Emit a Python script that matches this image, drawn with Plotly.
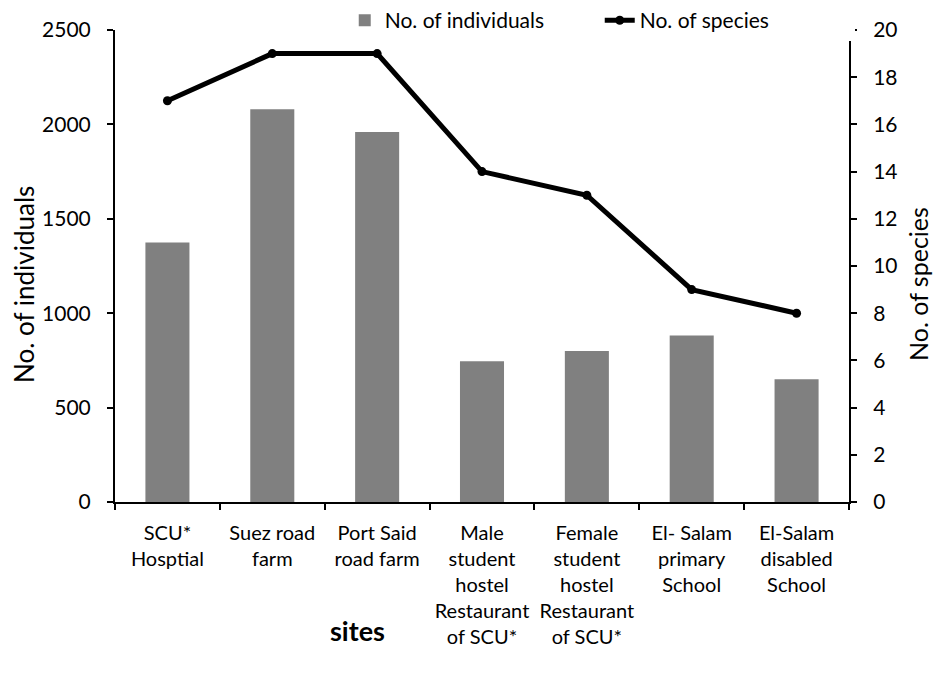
"""Number of individuals and species per site (bar + line, dual axis)."""

import plotly.graph_objects as go

# Data
sites = [
    "SCU*<br>Hosptial",
    "Suez road<br>farm",
    "Port Said<br>road farm",
    "Male<br>student<br>hostel<br>Restaurant<br>of SCU*",
    "Female<br>student<br>hostel<br>Restaurant<br>of SCU*",
    "El- Salam<br>primary<br>School",
    "El-Salam<br>disabled<br>School",
]
individuals = [1375, 2080, 1960, 745, 800, 882, 650]
species = [17, 19, 19, 14, 13, 9, 8]

left_ticks = [0, 500, 1000, 1500, 2000, 2500]
right_ticks = [0, 2, 4, 6, 8, 10, 12, 14, 16, 18, 20]

FONT = "Lato, 'Open Sans', sans-serif"

fig = go.Figure()

fig.add_trace(go.Bar(
    x=sites,
    y=individuals,
    name="No. of individuals",
    marker=dict(color="#808080", line=dict(width=0)),
    yaxis="y",
))

fig.add_trace(go.Scatter(
    x=sites,
    y=species,
    name="No. of species",
    mode="lines+markers",
    line=dict(color="black", width=5),
    marker=dict(color="black", size=9),
    yaxis="y2",
))

axis_common = dict(
    showgrid=False,
    zeroline=False,
    showline=True,
    linecolor="black",
    linewidth=2,
    ticks="outside",
    ticklen=6,
    tickwidth=2,
    tickcolor="black",
    tickfont=dict(family=FONT, size=21, color="black"),
)

# page has an 8px body margin, so the margins below are shifted by 8px
fig.update_layout(
    width=941,
    height=675,
    plot_bgcolor="white",
    paper_bgcolor="white",
    margin=dict(l=107, r=100, t=22, b=181, autoexpand=False),
    bargap=0.58,
    font=dict(family=FONT, size=20, color="black"),
    xaxis=dict(
        **axis_common,
        type="category",
        tickson="boundaries",
        tickangle=0,
        ticklabelstandoff=12,
    ),
    yaxis=dict(
        **axis_common,
        range=[0, 2500],
        tickvals=left_ticks,
        ticklabelstandoff=12,
    ),
    yaxis2=dict(
        **axis_common,
        overlaying="y",
        side="right",
        range=[0, 20],
        tickvals=right_ticks,
        ticklabelstandoff=12,
    ),
    legend=dict(
        orientation="h",
        x=0.313,
        xanchor="left",
        y=1.02,
        yanchor="middle",
        font=dict(family=FONT, size=21),
        entrywidth=210,
        traceorder="normal",
    ),
)
fig.update_xaxes(tickfont=dict(size=20))

# axis titles sit a bit below the middle of the plot, so place them by hand
titles = [
    ("No. of individuals", -0.124, 26),
    ("No. of species", 1.094, 25),
]
for text, xpos, size in titles:
    fig.add_annotation(
        text=text,
        xref="paper",
        yref="paper",
        x=xpos,
        y=0.462,
        xanchor="center",
        yanchor="middle",
        textangle=-90,
        showarrow=False,
        font=dict(family=FONT, size=size, color="black"),
    )

fig.add_annotation(
    text="<b>sites</b>",
    xref="paper",
    yref="paper",
    x=0.331,
    xanchor="center",
    y=-0.272,
    yanchor="middle",
    showarrow=False,
    font=dict(family=FONT, size=27, color="black"),
)

fig.write_html("out.html")
